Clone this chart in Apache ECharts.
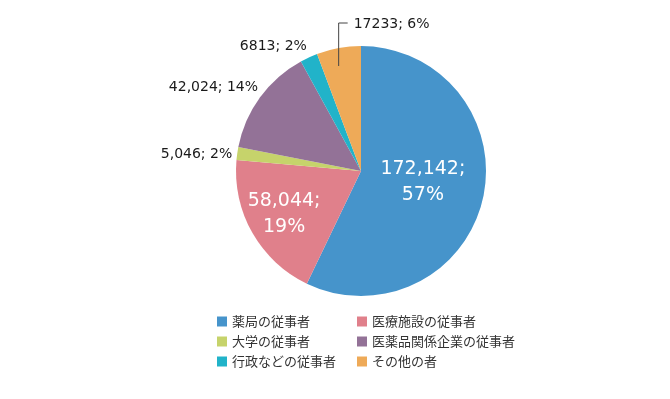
<!DOCTYPE html>
<html>
<head>
<meta charset="utf-8">
<script src="https://cdn.jsdelivr.net/npm/echarts@6/dist/echarts.min.js"></script>
<style>
  html, body { margin: 0; padding: 0; background: #fff; }
  #chart { width: 670px; height: 399px; }
</style>
</head>
<body>
<div id="chart"></div>
<script>
const categories = ["薬局の従事者", "医療施設の従事者", "大学の従事者", "医薬品関係企業の従事者", "行政などの従事者", "その他の者"];
const values = [172142, 58044, 5046, 42024, 6813, 17233];
const valueLabels = ["172,142", "58,044", "5,046", "42,024", "6813", "17233"];
const colors = ["#4694cb", "#e0808b", "#c6d36b", "#937297", "#21b3c9", "#eeaa58"];

// slices big enough to hold their label inside
const insideIdx = [0, 1];
// the one label with a leader line running into its slice
const leaderIdx = 5;
const labelShift = [{ dx: -2, dy: -3 }, { dx: -20, dy: 11 }, { dy: 1 }, { dx: 3, dy: -10 }, { dx: 3, dy: -11 }, {}];

const chart = echarts.init(document.getElementById("chart"), null, { renderer: "canvas" });

const outsideLabel = {
  show: true,
  position: "outside",
  color: "#1a1a1a",
  fontFamily: "DejaVu Sans",
  fontSize: 14,
};

const formatLabel = (p) => insideIdx.includes(p.dataIndex)
  ? `${valueLabels[p.dataIndex]};\n${p.percent}%`
  : `${valueLabels[p.dataIndex]}; ${p.percent}%`;

const data = categories.map((name, i) => ({
  name,
  value: values[i],
  itemStyle: { color: colors[i] },
  label: insideIdx.includes(i)
    ? { position: "inside", color: "#fff", fontFamily: "DejaVu Sans", fontSize: 19, lineHeight: 26 }
    : { ...outsideLabel, show: i !== leaderIdx },
}));

// transparent copy on top, only carries the leader-line label
const overlayData = categories.map((name, i) => ({
  name,
  value: values[i],
  itemStyle: { color: "rgba(0,0,0,0)" },
  label: { ...outsideLabel, show: i === leaderIdx },
  labelLine: {
    show: i === leaderIdx,
    length: 10,
    length2: 10,
    lineStyle: { color: "#444", width: 1 },
  },
}));

const legendBase = {
  orient: "vertical",
  top: 310,
  itemWidth: 10,
  itemHeight: 10,
  itemGap: 7,
  icon: "rect",
  textStyle: { color: "#333", fontSize: 13, fontFamily: "Noto Sans CJK JP" },
  selectedMode: false,
};

const pieBase = {
  type: "pie",
  center: [361, 171],
  radius: 125,
  startAngle: 90,
  clockwise: true,
  avoidLabelOverlap: false,
  percentPrecision: 0,
  emphasis: { disabled: true },
};

chart.setOption({
  animation: false,
  color: colors,
  legend: [
    { ...legendBase, left: 212, data: [categories[0], categories[2], categories[4]] },
    { ...legendBase, left: 352, data: [categories[1], categories[3], categories[5]] },
  ],
  series: [
    {
      ...pieBase,
      label: { formatter: formatLabel, distanceToLabelLine: 5 },
      labelLine: { show: false, length: 0, length2: 0 },
      labelLayout: (params) => labelShift[params.dataIndex],
      data,
    },
    {
      ...pieBase,
      z: 5,
      silent: true,
      label: { formatter: formatLabel },
      labelLine: { show: false },
      labelLayout: (params) => {
        const p = params.labelLinePoints && params.labelLinePoints[0];
        if (params.dataIndex !== leaderIdx || !p) return {};
        return {
          x: p[0] + 15,
          y: p[1] - 24,
          align: "left",
          verticalAlign: "middle",
          labelLinePoints: [[p[0], p[1] + 18], [p[0], p[1] - 25], [p[0] + 9, p[1] - 25]],
        };
      },
      data: overlayData,
    },
  ],
});
</script>
</body>
</html>
